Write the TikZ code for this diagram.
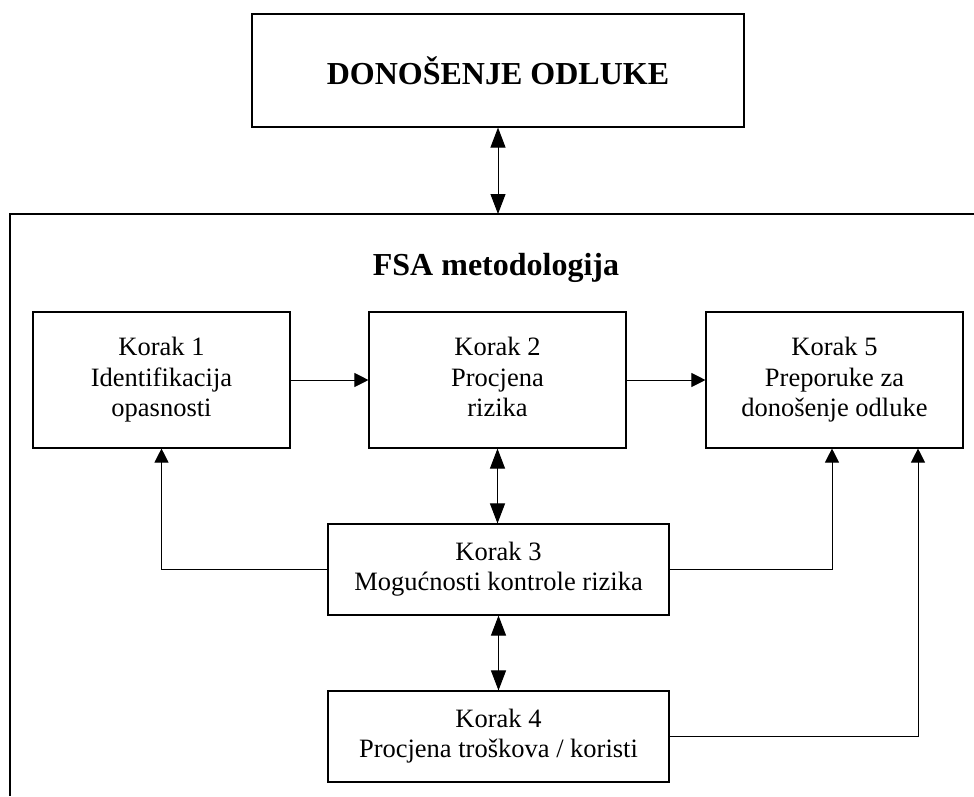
\documentclass[tikz,border=0pt]{standalone}
\usepackage{fontspec}
\setmainfont{Liberation Serif}
\usetikzlibrary{arrows.meta, positioning}

\begin{document}
\begin{tikzpicture}[
    x=1pt, y=-1pt,
    box/.style={rectangle, draw, line width=1.1pt, minimum width=257pt, minimum height=136pt,
                inner sep=0pt, align=center, font=\fontsize{26.5}{30.5}\selectfont},
    widebox/.style={box, minimum width=341pt, minimum height=91pt},
    arrow/.style={-{Triangle[length=14pt, width=14pt]}, line width=1pt},
    dblarrow/.style={{Triangle[length=20pt, width=15pt]}-{Triangle[length=20pt, width=15pt]}, line width=1pt},
    frameline/.style={line width=1.5pt}
]
\useasboundingbox (0,0) rectangle (974,796);

\node[box, minimum width=492pt, minimum height=113pt, font=\bfseries\fontsize{32}{36}\selectfont] (odluka) at (498,70.5) {DONOŠENJE ODLUKE};

% FSA frame
\draw[frameline] (974,214) -- (10,214) -- (10,796);
\coordinate (okvir) at (498,214);
\node[font=\bfseries\fontsize{32}{36}\selectfont] (fsa) at (496,268) {FSA metodologija};

\node[box] (k1) at (161.5,380) {\strut Korak 1\\Identifikacija\\opasnosti\strut};
\node[box] (k2) at (497.5,380) {\strut Korak 2\\Procjena\\rizika\strut};
\node[box] (k5) at (834.5,380) {\strut Korak 5\\Preporuke za\\donošenje odluke\strut};
\node[widebox] (k3) at (498.5,569.5) {\strut Korak 3\\Mogućnosti kontrole rizika\strut};
\node[widebox] (k4) at (498.5,736.5) {\strut Korak 4\\Procjena troškova / koristi\strut};

\draw[dblarrow] (odluka.south) -- (okvir);
\draw[arrow] (k1) -- (k2);
\draw[arrow] (k2) -- (k5);
\draw[dblarrow] (k2.south) -- (k2.south |- k3.north);
\draw[dblarrow] (k3.south) -- (k4.north);
\draw[arrow] (k3.west) -| (k1.south);
\draw[arrow] (k3.east) -| ([xshift=-2.5pt]k5.south);
\draw[arrow] (k4.east) -| ([xshift=83.5pt]k5.south);

\end{tikzpicture}
\end{document}
